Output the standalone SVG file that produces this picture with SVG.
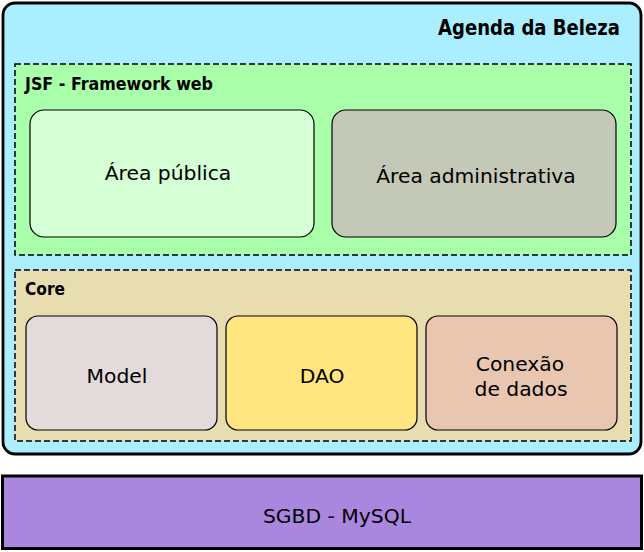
<svg xmlns="http://www.w3.org/2000/svg" width="644" height="552" viewBox="0 0 644 552">
<style>
.lbl{font-family:"DejaVu Sans","Verdana",sans-serif;font-size:20.3px;fill:#000;text-anchor:middle}
.ttl{font-family:"DejaVu Sans","Verdana",sans-serif;font-weight:bold;fill:#000}
.box{stroke:#000;stroke-width:1.2}
.grp{stroke:#000;stroke-width:1.5;stroke-dasharray:6,3}
</style>
<rect width="644" height="552" fill="#fff"/>
<g id="agenda">
<rect x="3" y="3" width="638" height="451" rx="12" fill="#aaeeff" stroke="#000" stroke-width="2.8"/>
<text class="ttl" x="620" y="35" font-size="20.5" text-anchor="end" textLength="182" lengthAdjust="spacingAndGlyphs">Agenda da Beleza</text>
</g>
<g id="jsf">
<rect class="grp" x="15" y="64" width="616" height="191" fill="#aaffaa"/>
<text class="ttl" x="25" y="90" font-size="17" textLength="188" lengthAdjust="spacingAndGlyphs">JSF - Framework web</text>
</g>
<g id="area-publica">
<rect class="box" x="30" y="110" width="284" height="127" rx="14" fill="#d5ffd5"/>
<text class="lbl" x="168" y="180">Área pública</text>
</g>
<g id="area-admin">
<rect class="box" x="332" y="110" width="284" height="127" rx="14" fill="#c4c8b7"/>
<text class="lbl" x="476" y="183">Área administrativa</text>
</g>
<g id="core">
<rect class="grp" x="15" y="270" width="616" height="171" fill="#e8ddb0"/>
<text class="ttl" x="25" y="295" font-size="17.5" textLength="40" lengthAdjust="spacingAndGlyphs">Core</text>
</g>
<g id="model">
<rect class="box" x="26" y="316" width="191" height="114" rx="12" fill="#e3dbdb"/>
<text class="lbl" x="117" y="383">Model</text>
</g>
<g id="dao">
<rect class="box" x="226" y="316" width="191" height="114" rx="12" fill="#ffe680"/>
<text class="lbl" x="322" y="383">DAO</text>
</g>
<g id="conexao">
<rect class="box" x="426" y="316" width="191" height="114" rx="12" fill="#e9c6af"/>
<text class="lbl" x="520" y="371">Conexão</text>
<text class="lbl" x="521" y="396">de dados</text>
</g>
<g id="sgbd">
<rect x="2.5" y="476" width="639" height="72.5" fill="#aa87de" stroke="#000" stroke-width="3"/>
<text class="lbl" x="337" y="523">SGBD - MySQL</text>
</g>
<g id="connectors"></g>
</svg>
